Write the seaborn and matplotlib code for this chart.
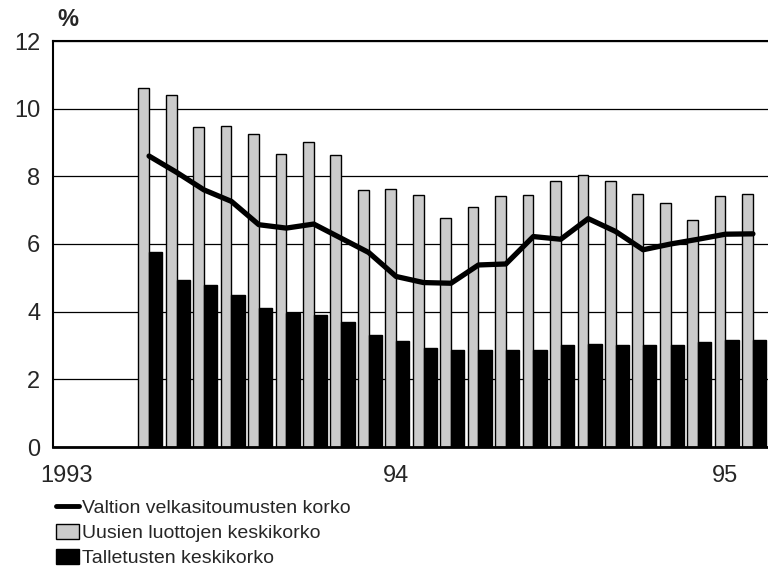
import pandas as pd
import matplotlib.pyplot as plt
import seaborn as sns
from matplotlib.lines import Line2D
from matplotlib.patches import Patch

# kuukausi-indeksi: 0 = tammikuu 1993, data huhtikuusta 1993 helmikuuhun 1995
kuukaudet = list(range(3, 26))

valtion = [8.60, 8.12, 7.60, 7.26, 6.57, 6.47, 6.59, 6.17, 5.75,
           5.04, 4.86, 4.84, 5.38, 5.41, 6.22, 6.14, 6.75, 6.37, 5.83, 6.00, 6.14,
           6.29, 6.30]
luotot = [10.62, 10.41, 9.47, 9.50, 9.26, 8.67, 9.02, 8.64, 7.60,
          7.62, 7.46, 6.77, 7.09, 7.41, 7.44, 7.85, 8.04, 7.85, 7.49, 7.21, 6.70,
          7.41, 7.47]
talletukset = [5.76, 4.93, 4.78, 4.50, 4.10, 3.97, 3.89, 3.70, 3.32,
               3.13, 2.94, 2.87, 2.87, 2.87, 2.87, 3.01, 3.04, 3.02, 3.02, 3.02, 3.11,
               3.16, 3.16]

nimet = ['Valtion velkasitoumusten korko', 'Uusien luottojen keskikorko',
         'Talletusten keskikorko']
vuodet = ['1993', '94', '95']

pylvaat = pd.DataFrame({
    'kk': kuukaudet * 2,
    'korko': luotot + talletukset,
    'sarja': [nimet[1]] * len(luotot) + [nimet[2]] * len(talletukset),
})

sns.set_style('white')
plt.rcParams['font.family'] = ['Liberation Sans', 'DejaVu Sans']

harmaa = '#cbcbcb'

fig = plt.figure(figsize=(7.68, 5.85), dpi=100)
ax = fig.add_axes([53 / 768, 1 - 447 / 585, 1 - 53 / 768, 406 / 585])

sns.barplot(data=pylvaat, x='kk', y='korko', hue='sarja', native_scale=True,
            palette=[harmaa, 'black'], width=0.87, edgecolor='black',
            linewidth=1, legend=False, ax=ax, zorder=2)

# vaalea pylväs kapeampi, tumma leveämpi (kuten alkuperäisessä)
n = len(kuukaudet)
for i, p in enumerate(ax.patches[:2 * n]):
    keski = p.get_x() + p.get_width() if i < n else p.get_x()
    if i < n:
        p.set_x(keski - 0.39)
        p.set_width(0.39)
    else:
        p.set_width(0.485)

sns.lineplot(x=kuukaudet, y=valtion, color='black', linewidth=3.8, ax=ax, zorder=3)

ax.set_xlim(-0.5, 25.55)
ax.set_ylim(0, 12)
ax.set_yticks(range(0, 13, 2))
ax.yaxis.grid(True, color='black', linewidth=0.9)
ax.set_axisbelow(True)
ax.set_xticks([0, 12, 24], vuodet)
ax.set_xticks(range(0, 26), minor=True)
ax.tick_params(axis='x', which='major', direction='in', length=6, width=1,
               pad=13, labelsize=17)
ax.tick_params(axis='x', which='minor', direction='in', length=3, width=1)
ax.tick_params(axis='y', length=0, pad=9, labelsize=17)
ax.set_xlabel('')
ax.set_ylabel('')

for s in ['left', 'top', 'bottom']:
    ax.spines[s].set_color('black')
    ax.spines[s].set_linewidth(1.5)
ax.spines['bottom'].set_linewidth(2)
ax.spines['right'].set_visible(False)

fig.text(57 / 768, 1 - 20 / 585, '%', fontsize=17, fontweight='bold',
         va='center', ha='left')

kahvat = [Line2D([0], [0], color='black', linewidth=3.5),
          Patch(facecolor=harmaa, edgecolor='black'),
          Patch(facecolor='black', edgecolor='black')]
fig.legend(kahvat, nimet, loc='upper left', bbox_to_anchor=(56 / 768, 1 - 499 / 585),
           frameon=False, fontsize=14, handlelength=1.2, handleheight=0.8,
           handletextpad=0.15, labelspacing=0.35, borderpad=0, borderaxespad=0)

fig.savefig('out.png', dpi=100)
